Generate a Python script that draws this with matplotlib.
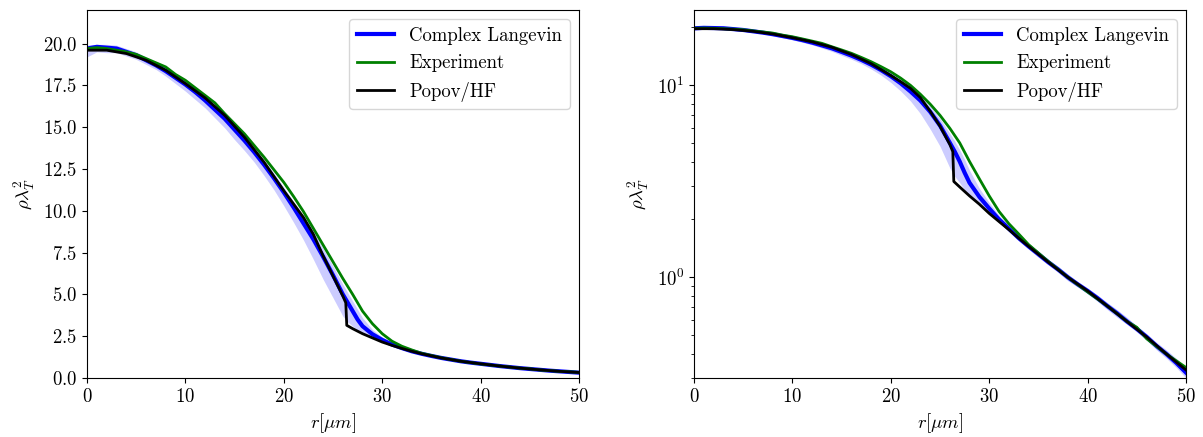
import matplotlib
matplotlib.use("Agg")
import matplotlib.pyplot as plt
from matplotlib.ticker import MultipleLocator

plt.rcParams["font.family"] = "serif"
plt.rcParams["font.serif"] = ["cmr10"]
plt.rcParams["mathtext.fontset"] = "cm"
plt.rcParams["axes.formatter.use_mathtext"] = True
plt.rcParams["font.size"] = 13.5

# Complex Langevin (mean + error band)
r_cl = [0, 1, 2, 3, 4, 5, 6, 7, 8, 9, 10, 11, 12, 13, 14, 15, 16, 17, 18, 19, 20,
        21, 22, 23, 24, 25, 26, 26.5, 27, 27.5, 28, 29, 30, 31, 32, 33, 34, 35, 36, 37,
        38, 39, 40, 41, 42, 43, 44, 45, 46, 47, 48, 49, 50]
rho_cl = [19.7, 19.8, 19.75, 19.7, 19.5, 19.3, 19.0, 18.7, 18.35, 17.95, 17.55, 17.1,
          16.6, 16.05, 15.5, 14.85, 14.2, 13.5, 12.75, 11.95, 11.1, 10.2, 9.25, 8.3,
          7.25, 6.15, 5.0, 4.5, 4.0, 3.5, 3.1, 2.62, 2.28, 2.0, 1.79, 1.6, 1.45, 1.32,
          1.2, 1.1, 1.0, 0.92, 0.85, 0.78, 0.71, 0.65, 0.59, 0.54, 0.49, 0.44, 0.40,
          0.36, 0.32]
rho_cl_lo = [19.2, 19.5, 19.45, 19.45, 19.25, 19.05, 18.75, 18.45, 18.05, 17.6, 17.15,
             16.65, 16.15, 15.55, 14.95, 14.25, 13.6, 12.9, 12.1, 11.25, 10.3, 9.3, 8.25,
             7.1, 5.9, 4.8, 3.7, 3.35, 3.1, 2.85, 2.65, 2.4, 2.15, 1.92, 1.73, 1.55, 1.4,
             1.27, 1.16, 1.06, 0.96, 0.89, 0.82, 0.75, 0.68, 0.62, 0.57, 0.52, 0.47,
             0.42, 0.38, 0.34, 0.30]
rho_cl_hi = [19.9, 19.95, 19.95, 19.9, 19.7, 19.5, 19.2, 18.9, 18.55, 18.15, 17.75,
             17.3, 16.8, 16.3, 15.7, 15.1, 14.45, 13.75, 13.0, 12.25, 11.4, 10.55, 9.65,
             8.75, 7.75, 6.7, 5.6, 5.1, 4.6, 4.1, 3.6, 2.9, 2.45, 2.1, 1.86, 1.66, 1.5,
             1.37, 1.24, 1.14, 1.04, 0.95, 0.88, 0.81, 0.74, 0.68, 0.62, 0.56, 0.51,
             0.46, 0.42, 0.38, 0.34]

# Experiment
r_exp = [0, 1, 2, 3, 4, 5, 6, 7, 8, 9, 10, 11, 12, 13, 14, 15, 16, 17, 18, 19, 20, 21,
         22, 23, 24, 25, 26, 27, 28, 29, 30, 31, 32, 33, 34, 36, 38, 40, 42, 44, 45, 46,
         48, 50]
rho_exp = [19.7, 19.75, 19.7, 19.6, 19.5, 19.35, 19.1, 18.85, 18.6, 18.15, 17.8, 17.35,
           16.9, 16.45, 15.8, 15.2, 14.6, 13.9, 13.2, 12.45, 11.7, 10.85, 9.95, 8.95,
           7.95, 6.95, 5.95, 5.0, 4.0, 3.25, 2.65, 2.2, 1.9, 1.68, 1.48, 1.21, 1.0,
           0.84, 0.71, 0.59, 0.55, 0.48, 0.40, 0.34]

# Popov/HF
r_hf = [0, 2, 4, 6, 8, 10, 12, 14, 16, 18, 20, 21, 22, 23, 24, 25, 26, 26.3, 26.4, 27,
        28, 29, 30, 31, 32, 33, 34, 36, 38, 40, 42, 44, 46, 48, 50]
rho_hf = [19.6, 19.6, 19.4, 19.0, 18.4, 17.6, 16.75, 15.7, 14.4, 12.9, 11.2, 10.4, 9.6,
          8.6, 7.3, 6.1, 4.9, 4.5, 3.15, 2.95, 2.65, 2.4, 2.15, 1.95, 1.77, 1.6, 1.45,
          1.2, 1.0, 0.85, 0.71, 0.59, 0.49, 0.40, 0.33]

fig = plt.figure(figsize=(12.03, 4.37), dpi=100)
ax1 = fig.add_axes([0.0723, 0.135, 0.409, 0.842])
ax2 = fig.add_axes([0.5769, 0.135, 0.409, 0.842])

for ax in (ax1, ax2):
    ax.fill_between(r_cl, rho_cl_lo, rho_cl_hi, color="blue", alpha=0.2, lw=0)
    ax.plot(r_cl, rho_cl, color="blue", lw=3, label="Complex Langevin")
    ax.plot(r_exp, rho_exp, color="green", lw=2, label="Experiment")
    ax.plot(r_hf, rho_hf, color="black", lw=2, label="Popov/HF")
    ax.set_xlim(0, 50)
    ax.set_xlabel(r"$r[\mu m]$")
    ax.set_ylabel(r"$\rho\lambda_T^2$")
    ax.legend(loc="upper right")

ax1.set_ylim(0, 22)
ax1.yaxis.set_major_locator(MultipleLocator(2.5))
ax2.set_yscale("log")
ax2.set_ylim(0.3, 24.5)

fig.savefig("out.png", dpi=100)
